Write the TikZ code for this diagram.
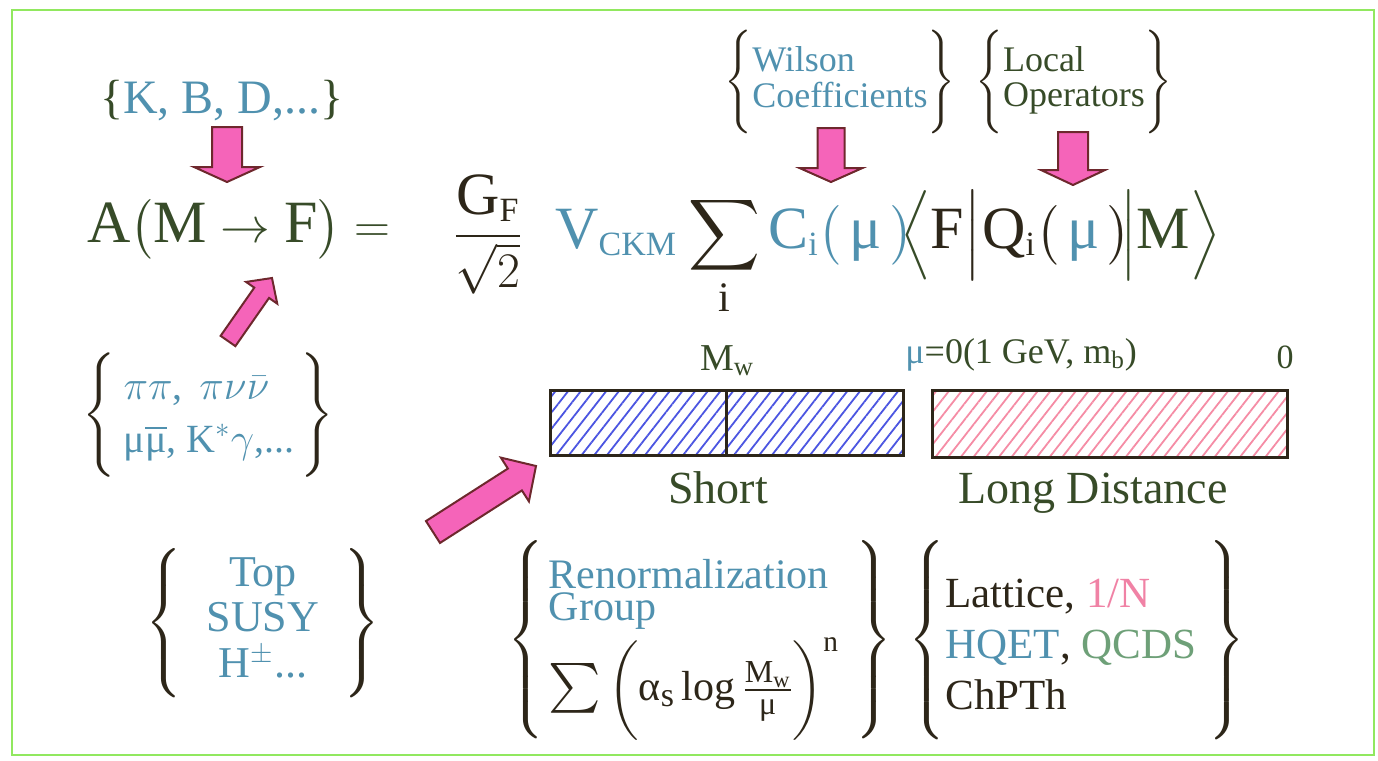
\documentclass[tikz,border=0pt]{standalone}
\usepackage{amsmath}
\usepackage{fontspec}
\setmainfont{Liberation Serif}
\usetikzlibrary{calc,patterns.meta}

\begin{document}
\begin{tikzpicture}[x=0.5pt, y=-0.5pt,
    txt/.style={inner sep=0pt, text=ink-green},
    eq/.style={txt, font=\fontsize{30}{36}\selectfont, anchor=base west},
    bracegroup/.style={inner sep=0pt, text=ink-dark},
    bar/.style={draw=ink-dark, line width=1.5pt, inner sep=0pt,
        minimum width=176.5pt, minimum height=32.5pt},
    blockarrow/.style={draw=arrow-edge, fill=arrow-pink, line width=1pt}
]
    % Definitions
    \definecolor{frame-green}{RGB}{145, 232, 95}
    \definecolor{ink-green}{RGB}{55, 75, 40}
    \definecolor{ink-dark}{RGB}{45, 38, 25}
    \definecolor{teal-blue}{RGB}{80, 145, 175}
    \definecolor{arrow-pink}{RGB}{245, 100, 185}
    \definecolor{arrow-edge}{RGB}{110, 40, 45}
    \definecolor{hatch-blue}{RGB}{75, 85, 225}
    \definecolor{hatch-pink}{RGB}{245, 140, 165}
    \definecolor{sage-green}{RGB}{110, 160, 120}
    \definecolor{rose-tone}{RGB}{240, 130, 165}

    \newcommand{\mutext}{\text{μ}}
    \newcommand{\smallsub}[1]{\mbox{\fontsize{17}{17}\selectfont #1}}
    \newcommand{\fracpart}[1]{\mbox{\fontsize{16}{16}\selectfont #1}}
    \newcommand{\tallbrace}[2]{%
        \left\{\vcenter{\hrule height #1 width 0pt}#2\right\}}

    \newcommand{\drawblockarrow}[5]{
        \draw[blockarrow] let \p1=($(#2)-(#1)$),
            \n1={atan2(\y1,\x1)}, \n2={veclen(\x1,\y1)} in
            ($(#1)+(\n1+90:#3)$) -- ++(\n1:\n2-#5) -- ++(\n1+90:#4-#3)
            -- (#2) -- ($(#1)+(\n1:\n2-#5)+(\n1-90:#4)$)
            -- ++(\n1+90:#4-#3) -- ($(#1)+(\n1-90:#3)$) -- cycle;
    }

    \useasboundingbox (0,0) rectangle (1378,761);
    \draw[frame-green, line width=1pt] (12,10) rectangle (1374,755);

    % Mesons
    \node[txt, text=teal-blue, font=\fontsize{24}{28}\selectfont]
        (mesons) at (222,101)
        {\textcolor{ink-green}{\{}K, B, D,...\textcolor{ink-green}{\}}};

    % Amplitude
    \node[eq] (lhs) at (87,242)
        {$\mathrm{A}\bigl(\mathrm{M}\rightarrow\mathrm{F}\bigr)=$};
    \node[eq, text=ink-dark] (frac) at (453,248)
        {$\dfrac{\mathrm{G}_{\smallsub{F}}}{\sqrt{2}}$};
    \node[eq, text=teal-blue] (vckm) at (555,248) {$\mathrm{V}_{\smallsub{CKM}}$};
    \node[eq, text=ink-dark] (sum) at (688,248) {$\displaystyle\sum_{\mathrm{i}}$};
    \node[eq, text=teal-blue] (coef) at (768,248)
        {$\mathrm{C}_{\smallsub{i}}\bigl(\,\mutext\,\bigr)$};
    \node[eq, text=ink-dark] (bra) at (900,248)
        {$\textcolor{ink-green}{\Big\langle}\mathrm{F}\Big|$};
    \node[eq, text=ink-dark] (op) at (982,248)
        {$\mathrm{Q}_{\smallsub{i}}\bigl(\,\textcolor{teal-blue}{\mutext}\,\bigr)$};
    \node[eq] (ket) at (1120,248) {$\Big|\mathrm{M}\Big\rangle$};

    % Wilson coefficients and operators
    \node[bracegroup, font=\fontsize{18}{17.5}\selectfont] (wilson) at (840,82)
        {$\tallbrace{47pt}{\textcolor{teal-blue}{\begin{tabular}{@{}l@{}}
            Wilson\\Coefficients\end{tabular}}}$};
    \node[bracegroup, font=\fontsize{18}{17.5}\selectfont] (local) at (1074,82)
        {$\tallbrace{47pt}{\textcolor{ink-green}{\begin{tabular}{@{}l@{}}
            Local\\Operators\end{tabular}}}$};

    % Final states
    \node[bracegroup, font=\fontsize{20}{26.5}\selectfont] (finals) at (208,415)
        {$\tallbrace{64pt}{\hspace{4pt}\textcolor{teal-blue}{\begin{tabular}{@{}l@{}}
            $\pi\pi$, \,$\pi\nu\bar{\nu}$\\
            μ$\overline{\text{μ}}$, K$^{*}\gamma$,...\end{tabular}}\hspace{3pt}}$};

    % New physics
    \node[bracegroup, font=\fontsize{22}{22.5}\selectfont] (newphys) at (263,623)
        {$\tallbrace{64pt}{\hspace{12pt}\textcolor{teal-blue}{\begin{tabular}{@{}c@{}}
            Top\\SUSY\\H$^{\pm}$...\end{tabular}}\hspace{12pt}}$};

    % Scale bars
    \node[bar, pattern={Lines[angle=52, distance=5pt, line width=0.9pt]},
          pattern color=hatch-blue] (shortbar) at (726.5,422.5) {};
    \node[bar, minimum width=177.5pt, minimum height=33.5pt,
          pattern={Lines[angle=52, distance=5pt, line width=0.9pt]},
          pattern color=hatch-pink] (longbar) at (1109.5,423.5) {};
    \draw[ink-dark, line width=1.5pt] (shortbar.north) -- (shortbar.south);

    \node[txt, anchor=base, font=\fontsize{19}{22}\selectfont] (mw) at (727,370)
        {$\mathrm{M}_{\mathrm{w}}$};
    \node[txt, anchor=base west, font=\fontsize{18}{21}\selectfont] (scale)
        at (905,363) {\textcolor{teal-blue}{μ}=0(1 GeV, m\textsubscript{b})};
    \node[txt, anchor=base, font=\fontsize{17}{20}\selectfont] (zero)
        at (1285,368) {0};
    \node[txt, anchor=base, font=\fontsize{23}{27}\selectfont] (shortlbl)
        at (718,503) {Short};
    \node[txt, anchor=base, font=\fontsize{23}{27}\selectfont] (longlbl)
        at (1093,503) {Long Distance};

    % Methods
    \node[bracegroup, font=\fontsize{21}{15.5}\selectfont] (rg) at (700,640)
        {$\tallbrace{96pt}{\hspace{2pt}\lower5pt\hbox{\begin{tabular}{@{}l@{}}
            \textcolor{teal-blue}{Renormalization}\\[-2.5pt]
            \textcolor{teal-blue}{Group}\\[4pt]
            $\mbox{\fontsize{25}{25}\selectfont$\sum$}
                \left(\vcenter{\hrule height 42pt width 0pt}
                \text{α}_{\smallsub{s}}\log
                \frac{\fracpart{M\textsubscript{w}}}{\fracpart{μ}}
                \right)^{\mathrm{n}}$
        \end{tabular}}\hspace{8pt}}$};
    \node[bracegroup, font=\fontsize{21.5}{25.5}\selectfont] (lattice) at (1077,640)
        {$\tallbrace{96pt}{\lower4pt\hbox{\begin{tabular}{@{}l@{}}
            Lattice, \textcolor{rose-tone}{1/N}\\
            \textcolor{teal-blue}{HQET}, \textcolor{sage-green}{QCDS}\\
            ChPTh
        \end{tabular}}\hspace{6pt}}$};

    % Arrows
    \coordinate (mesons-tail) at (227,127);
    \coordinate (mesons-tip) at (227,182);
    \coordinate (finals-tail) at (228,341);
    \coordinate (finals-tip) at (272,278);
    \coordinate (wilson-tail) at (831,128);
    \coordinate (wilson-tip) at (831,182);
    \coordinate (local-tail) at (1073,132);
    \coordinate (local-tip) at (1073,185);
    \coordinate (newphys-tail) at (433,532);
    \coordinate (newphys-tip) at (536,466);

    \drawblockarrow{mesons-tail}{mesons-tip}{7.5pt}{16.5pt}{7.5pt}
    \drawblockarrow{finals-tail}{finals-tip}{4.5pt}{9.5pt}{9pt}
    \drawblockarrow{wilson-tail}{wilson-tip}{6.75pt}{15.75pt}{7pt}
    \drawblockarrow{local-tail}{local-tip}{7.5pt}{16pt}{7.5pt}
    \drawblockarrow{newphys-tail}{newphys-tip}{6.5pt}{13pt}{12.5pt}
\end{tikzpicture}
\end{document}
